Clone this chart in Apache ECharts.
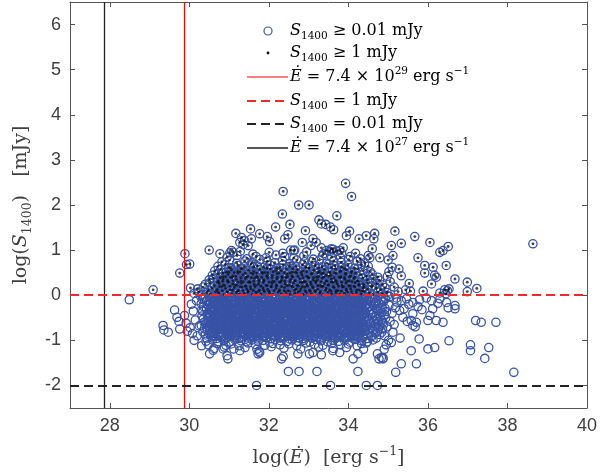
<!DOCTYPE html>
<html><head><meta charset="utf-8">
<script src="https://cdn.jsdelivr.net/npm/echarts@6/dist/echarts.min.js"></script>
<style>html,body{margin:0;padding:0;background:#fff}#c{width:614px;height:476px}</style>
</head><body><div id="c"></div>
<script>
// ---- tick labels ----
const xTicks = [28, 30, 32, 34, 36, 38, 40];
const yTicks = [-2, -1, 0, 1, 2, 3, 4, 5, 6];
// ---- reference lines ----
const edotCut29 = 29.869;   // log(7.4e29)
const edotCut27 = 27.869;   // log(7.4e27)
const s1mJy = 0;            // log(1 mJy)
const s001mJy = -2;         // log(0.01 mJy)

// ---- pulsars with S1400 >= 1 mJy (dense part) ----
const upperCloud = [
[30.12,0.04],[30.24,0.07],[30.31,0.02],[30.45,0.06],[30.53,0.03],[30.66,0.08],[30.74,0.05],[30.88,0.01],[30.95,0.07],[31.07,0.03],[31.19,0.06],[31.26,0.02],
[31.38,0.04],[31.47,0.07],[31.59,0.02],[31.68,0.06],[31.80,0.03],[31.89,0.08],[32.02,0.05],[32.10,0.01],[32.23,0.07],[32.31,0.03],[32.44,0.06],[32.52,0.02],
[32.65,0.04],[32.73,0.07],[32.86,0.02],[32.94,0.06],[33.07,0.03],[33.16,0.08],[33.28,0.05],[33.35,0.01],[33.49,0.07],[33.57,0.03],[33.69,0.06],[33.78,0.02],
[33.90,0.04],[33.98,0.07],[34.11,0.02],[34.20,0.06],[34.32,0.03],[34.40,0.08],[34.53,0.05],[34.61,0.01],[34.74,0.07],[34.85,0.03],[34.97,0.06],
[30.21,0.14],[30.35,0.18],[30.48,0.11],[30.57,0.16],[30.70,0.13],[30.82,0.19],[30.91,0.15],[31.03,0.12],[31.13,0.17],[31.24,0.10],[31.33,0.18],[31.45,0.14],
[31.55,0.14],[31.64,0.18],[31.76,0.11],[31.85,0.16],[31.97,0.13],[32.06,0.19],[32.18,0.15],[32.27,0.12],[32.39,0.17],[32.48,0.10],[32.60,0.18],[32.69,0.14],
[32.81,0.14],[32.90,0.18],[33.02,0.11],[33.11,0.16],[33.23,0.13],[33.33,0.19],[33.44,0.15],[33.53,0.12],[33.64,0.17],[33.74,0.10],[33.85,0.18],[33.95,0.14],
[34.06,0.14],[34.16,0.18],[34.27,0.11],[34.37,0.16],[34.48,0.13],[34.58,0.19],[34.70,0.15],[34.81,0.12],[34.92,0.17],
[30.40,0.24],[30.52,0.28],[30.63,0.21],[30.75,0.26],[30.86,0.23],[30.98,0.29],[31.09,0.25],[31.20,0.22],[31.31,0.27],[31.42,0.20],[31.53,0.28],[31.63,0.24],
[31.74,0.24],[31.86,0.28],[31.96,0.21],[32.08,0.26],[32.19,0.23],[32.29,0.29],[32.41,0.25],[32.51,0.22],[32.62,0.27],[32.74,0.20],[32.84,0.28],[32.96,0.24],
[33.06,0.24],[33.18,0.28],[33.29,0.21],[33.40,0.26],[33.50,0.23],[33.62,0.29],[33.72,0.25],[33.84,0.22],[33.94,0.27],[34.05,0.20],[34.17,0.28],[34.26,0.24],
[34.38,0.24],[34.49,0.28],[34.60,0.21],[34.72,0.26],[34.86,0.23],
[30.50,0.34],[30.61,0.38],[30.73,0.31],[30.85,0.36],[30.96,0.33],[31.08,0.39],[31.18,0.35],[31.30,0.32],[31.41,0.37],[31.52,0.30],[31.64,0.38],[31.75,0.34],
[31.87,0.34],[31.97,0.38],[32.09,0.31],[32.20,0.36],[32.32,0.33],[32.43,0.39],[32.55,0.35],[32.66,0.32],[32.78,0.37],[32.88,0.30],[33.00,0.38],[33.12,0.34],
[33.22,0.34],[33.34,0.38],[33.46,0.31],[33.57,0.36],[33.68,0.33],[33.80,0.39],[33.91,0.35],[34.02,0.32],[34.14,0.37],[34.25,0.30],[34.36,0.38],[34.48,0.34],
[34.62,0.36],[34.78,0.33],
[30.58,0.44],[30.72,0.48],[30.84,0.41],[30.97,0.46],[31.10,0.43],[31.22,0.49],[31.35,0.45],[31.47,0.42],[31.60,0.47],[31.71,0.40],[31.84,0.48],[31.96,0.44],
[32.09,0.44],[32.21,0.48],[32.33,0.41],[32.46,0.46],[32.58,0.43],[32.70,0.49],[32.83,0.45],[32.95,0.42],[33.07,0.47],[33.20,0.40],[33.32,0.48],[33.44,0.44],
[33.56,0.44],[33.69,0.48],[33.81,0.41],[33.93,0.46],[34.06,0.43],[34.18,0.49],[34.31,0.45],[34.45,0.42],[34.60,0.47],[34.74,0.40],
[30.64,0.54],[30.79,0.58],[30.93,0.51],[31.06,0.56],[31.21,0.53],[31.34,0.59],[31.49,0.55],[31.62,0.52],[31.77,0.57],[31.90,0.50],[32.04,0.58],[32.18,0.54],
[32.31,0.54],[32.45,0.58],[32.59,0.51],[32.72,0.56],[32.86,0.53],[33.00,0.59],[33.13,0.55],[33.27,0.52],[33.40,0.57],[33.54,0.50],[33.68,0.58],[33.81,0.54],
[33.95,0.56],[34.09,0.53],[34.23,0.59],[34.38,0.55],[34.55,0.52],
[30.72,0.64],[30.90,0.68],[31.05,0.61],[31.22,0.66],[31.38,0.63],[31.55,0.69],[31.71,0.65],[31.88,0.62],[32.03,0.67],[32.20,0.60],[32.36,0.68],[32.52,0.64],
[32.68,0.64],[32.85,0.68],[33.01,0.61],[33.17,0.66],[33.34,0.63],[33.50,0.69],[33.66,0.65],[33.83,0.62],[33.99,0.67],[34.16,0.60],[34.33,0.68],[34.50,0.64],
[30.82,0.74],[31.01,0.78],[31.19,0.71],[31.40,0.76],[31.58,0.73],[31.78,0.79],[31.96,0.75],[32.15,0.72],[32.34,0.77],[32.52,0.70],[32.70,0.78],[32.90,0.74],
[33.08,0.74],[33.27,0.78],[33.45,0.71],[33.63,0.76],[33.82,0.73],[34.01,0.79],[34.22,0.75],[34.41,0.72],
[30.95,0.84],[31.20,0.88],[31.45,0.81],[31.68,0.86],[31.93,0.83],[32.18,0.89],[32.40,0.85],[32.63,0.82],[32.88,0.87],[33.12,0.80],[33.35,0.88],[33.58,0.84],
[33.80,0.83],[34.05,0.86],[34.30,0.81],
[31.02,0.94],[31.28,0.97],[31.60,0.91],[32.01,0.95],[32.35,0.93],[32.62,0.99],[32.95,0.96],[33.38,0.92],[33.52,0.97],[33.61,1.02],[33.70,0.98],[33.83,0.94],[34.18,0.93]
];

// ---- extra bright pulsars filling the crowded core ----
const upperCore = [
[30.70,0.09],[30.83,0.10],[30.96,0.08],[31.09,0.11],[31.22,0.09],[31.35,0.10],[31.48,0.09],[31.61,0.10],[31.74,0.08],[31.87,0.11],[32.00,0.09],[32.13,0.10],
[32.26,0.09],[32.39,0.10],[32.52,0.08],[32.65,0.11],[32.78,0.09],[32.91,0.10],[33.04,0.09],[33.17,0.10],[33.30,0.08],[33.43,0.11],[33.56,0.09],[33.69,0.10],
[33.82,0.09],[33.95,0.10],[34.08,0.08],[34.21,0.11],[34.34,0.09],
[30.76,0.19],[30.89,0.21],[31.02,0.20],[31.15,0.22],[31.28,0.19],[31.41,0.20],[31.54,0.19],[31.67,0.21],[31.80,0.20],[31.93,0.22],[32.06,0.19],[32.19,0.20],
[32.32,0.19],[32.45,0.21],[32.58,0.20],[32.71,0.22],[32.84,0.19],[32.97,0.20],[33.10,0.19],[33.23,0.21],[33.36,0.20],[33.49,0.22],[33.62,0.19],[33.75,0.20],
[33.88,0.19],[34.01,0.21],[34.14,0.20],[34.27,0.22],[34.40,0.19],
[30.71,0.29],[30.84,0.31],[30.97,0.30],[31.10,0.32],[31.23,0.29],[31.36,0.30],[31.49,0.29],[31.62,0.31],[31.75,0.30],[31.88,0.32],[32.01,0.29],[32.14,0.30],
[32.27,0.29],[32.40,0.31],[32.53,0.30],[32.66,0.32],[32.79,0.29],[32.92,0.30],[33.05,0.29],[33.18,0.31],[33.31,0.30],[33.44,0.32],[33.57,0.29],[33.70,0.30],
[33.83,0.29],[33.96,0.31],[34.09,0.30],[34.22,0.32],
[30.78,0.39],[30.91,0.41],[31.04,0.40],[31.17,0.42],[31.30,0.39],[31.43,0.40],[31.56,0.39],[31.69,0.41],[31.82,0.40],[31.95,0.42],[32.08,0.39],[32.21,0.40],
[32.34,0.39],[32.47,0.41],[32.60,0.40],[32.73,0.42],[32.86,0.39],[32.99,0.40],[33.12,0.39],[33.25,0.41],[33.38,0.40],[33.51,0.42],[33.64,0.39],[33.77,0.40],
[33.90,0.39],[34.03,0.41],[34.16,0.40],
[30.85,0.49],[30.99,0.51],[31.13,0.50],[31.27,0.52],[31.41,0.49],[31.55,0.50],[31.69,0.49],[31.83,0.51],[31.97,0.50],[32.11,0.52],[32.25,0.49],[32.39,0.50],
[32.53,0.49],[32.67,0.51],[32.81,0.50],[32.95,0.52],[33.09,0.49],[33.23,0.50],[33.37,0.49],[33.51,0.51],[33.65,0.50],[33.79,0.52],[33.93,0.49],[34.07,0.50],
[31.00,0.61],[31.30,0.59],[31.62,0.62],[31.95,0.60],[32.27,0.61],[32.60,0.59],[32.93,0.62],[33.25,0.60],[33.58,0.61],[33.90,0.59]
];

// ---- pulsars with S1400 >= 1 mJy (sparse outskirts) ----
const upperOutliers = [
[33.93,2.48],[34.08,2.19],[32.36,2.30],[32.75,2.00],[33.01,2.00],[32.34,1.80],[33.71,1.76],[33.26,1.67],[33.32,1.58],[33.43,1.57],
[33.55,1.51],[33.63,1.45],[32.17,1.51],[32.53,1.57],[32.92,1.43],[31.17,1.37],[31.54,1.47],[31.77,1.36],[31.96,1.30],[32.02,1.19],
[31.31,1.28],[31.39,1.21],[31.56,1.25],[31.27,1.17],[31.35,1.12],[31.48,1.10],[31.06,0.99],[31.10,0.95],[30.50,1.00],[30.77,0.92],
[30.01,0.69],[29.89,0.92],[29.93,0.68],[29.76,0.49],[29.09,0.12],[30.03,0.16],[32.84,1.17],[32.48,1.34],[32.40,1.25],[32.55,1.00],
[32.65,1.00],[33.11,1.25],[33.19,1.17],[33.06,1.10],[33.32,1.05],[33.45,0.99],[33.57,1.03],[33.63,0.95],[33.78,0.99],[33.87,1.05],
[34.03,1.42],[33.95,1.32],[34.27,1.25],[34.45,1.32],[34.66,1.37],[34.64,1.25],[34.60,1.03],[34.50,0.88],[34.54,0.83],[34.79,0.83],
[35.00,0.78],[35.08,1.10],[35.12,0.88],[35.17,1.42],[35.33,1.15],[35.67,1.30],[36.05,1.17],[35.75,0.83],[36.30,0.95],[36.38,0.99],
[36.51,1.08],[35.92,0.66],[36.13,0.62],[36.21,0.40],[36.46,0.66],[36.68,0.36],[38.64,1.14],[35.27,0.58],[35.02,0.52],[35.92,0.49],
[35.33,0.43],[36.17,0.44],[36.09,0.25],[35.53,0.26],[36.99,0.29],[36.99,0.08],[37.23,0.15],[35.44,0.12],[35.56,0.09],[35.88,0.09],
[36.42,0.12],[36.49,0.10],[36.53,0.14],[35.05,0.30],[35.15,0.18],[35.25,0.08],[34.98,0.42],[35.10,0.62],[36.30,0.05],[36.45,0.03]
];

// ---- pulsars with 0.01 <= S1400 < 1 mJy (dense part) ----
const lowerCloud = [
[30.28,-0.02],[30.40,-0.05],[30.49,-0.01],[30.62,-0.04],[30.70,-0.03],[30.81,-0.06],[30.91,-0.02],[31.05,-0.04],[31.12,-0.01],[31.24,-0.05],[31.34,-0.03],[31.43,-0.02],
[31.56,-0.03],[31.68,-0.06],[31.77,-0.02],[31.90,-0.04],[31.98,-0.01],[32.09,-0.05],[32.19,-0.03],[32.33,-0.02],[32.40,-0.04],[32.52,-0.06],[32.62,-0.01],[32.71,-0.03],
[32.84,-0.05],[32.96,-0.02],[33.05,-0.04],[33.18,-0.01],[33.26,-0.06],[33.37,-0.03],[33.47,-0.05],[33.61,-0.02],[33.68,-0.04],[33.80,-0.01],[33.90,-0.03],[33.99,-0.06],
[34.12,-0.02],[34.24,-0.05],[34.33,-0.01],[34.46,-0.04],[34.54,-0.03],[34.65,-0.06],[34.75,-0.02],[34.89,-0.04],[34.98,-0.01],
[30.33,-0.09],[30.44,-0.12],[30.55,-0.08],[30.65,-0.11],[30.77,-0.10],[30.86,-0.13],[30.98,-0.09],[31.09,-0.11],[31.18,-0.07],[31.31,-0.12],[31.40,-0.10],[31.52,-0.08],
[31.61,-0.11],[31.73,-0.13],[31.83,-0.08],[31.94,-0.10],[32.05,-0.12],[32.15,-0.07],[32.27,-0.09],[32.36,-0.13],[32.47,-0.11],[32.58,-0.08],[32.67,-0.10],[32.79,-0.12],
[32.90,-0.07],[33.00,-0.09],[33.11,-0.11],[33.22,-0.13],[33.32,-0.08],[33.43,-0.10],[33.54,-0.12],[33.64,-0.09],[33.75,-0.07],[33.85,-0.11],[33.96,-0.13],[34.07,-0.10],
[34.18,-0.08],[34.29,-0.12],[34.39,-0.09],[34.50,-0.11],[34.60,-0.07],[34.71,-0.13],[34.82,-0.10],[34.93,-0.08],
[30.30,-0.18],[30.42,-0.14],[30.51,-0.19],[30.63,-0.16],[30.73,-0.20],[30.84,-0.15],[30.94,-0.17],[31.06,-0.19],[31.15,-0.14],[31.27,-0.18],[31.37,-0.16],[31.47,-0.20],
[31.58,-0.15],[31.70,-0.17],[31.79,-0.19],[31.91,-0.14],[32.00,-0.18],[32.12,-0.16],[32.22,-0.20],[32.31,-0.15],[32.43,-0.17],[32.54,-0.19],[32.63,-0.14],[32.75,-0.18],
[32.86,-0.16],[32.95,-0.20],[33.07,-0.15],[33.17,-0.17],[33.28,-0.19],[33.39,-0.14],[33.49,-0.18],[33.60,-0.16],[33.71,-0.20],[33.81,-0.15],[33.92,-0.17],[34.03,-0.19],
[34.13,-0.14],[34.25,-0.18],[34.35,-0.16],[34.46,-0.20],[34.56,-0.15],[34.68,-0.17],[34.78,-0.19],[34.88,-0.14],
[30.36,-0.25],[30.48,-0.22],[30.58,-0.27],[30.69,-0.23],[30.80,-0.26],[30.90,-0.21],[31.02,-0.24],[31.12,-0.27],[31.23,-0.22],[31.34,-0.25],[31.44,-0.23],[31.55,-0.26],
[31.66,-0.21],[31.76,-0.24],[31.87,-0.27],[31.97,-0.22],[32.08,-0.25],[32.19,-0.23],[32.29,-0.26],[32.40,-0.21],[32.51,-0.24],[32.61,-0.27],[32.72,-0.22],[32.82,-0.25],
[32.93,-0.23],[33.04,-0.26],[33.14,-0.21],[33.25,-0.24],[33.36,-0.27],[33.46,-0.22],[33.57,-0.25],[33.67,-0.23],[33.78,-0.26],[33.89,-0.21],[33.99,-0.24],[34.10,-0.27],
[34.21,-0.22],[34.31,-0.25],[34.42,-0.23],[34.53,-0.26],[34.63,-0.21],[34.74,-0.24],[34.85,-0.27],
[30.31,-0.33],[30.43,-0.29],[30.53,-0.31],[30.64,-0.34],[30.75,-0.28],[30.87,-0.32],[30.96,-0.30],[31.08,-0.33],[31.19,-0.29],[31.29,-0.34],[31.41,-0.31],[31.50,-0.28],
[31.62,-0.32],[31.72,-0.30],[31.84,-0.33],[31.93,-0.29],[32.04,-0.34],[32.16,-0.31],[32.25,-0.28],[32.37,-0.32],[32.46,-0.30],[32.57,-0.33],[32.69,-0.29],[32.78,-0.34],
[32.89,-0.31],[33.01,-0.28],[33.10,-0.32],[33.21,-0.30],[33.33,-0.33],[33.42,-0.29],[33.53,-0.34],[33.65,-0.31],[33.74,-0.28],[33.86,-0.32],[33.95,-0.30],[34.06,-0.33],
[34.17,-0.29],[34.28,-0.34],[34.38,-0.31],[34.49,-0.28],[34.61,-0.32],[34.70,-0.30],[34.81,-0.33],[34.92,-0.29],
[30.34,-0.36],[30.46,-0.40],[30.57,-0.37],[30.67,-0.41],[30.79,-0.38],[30.88,-0.35],[31.00,-0.39],[31.10,-0.36],[31.21,-0.40],[31.32,-0.38],[31.43,-0.41],[31.53,-0.37],
[31.64,-0.39],[31.75,-0.35],[31.85,-0.40],[31.96,-0.36],[32.07,-0.41],[32.17,-0.38],[32.28,-0.37],[32.39,-0.40],[32.49,-0.35],[32.60,-0.39],[32.70,-0.36],[32.81,-0.41],
[32.92,-0.38],[33.02,-0.37],[33.13,-0.40],[33.24,-0.35],[33.35,-0.39],[33.45,-0.36],[33.56,-0.41],[33.66,-0.38],[33.77,-0.37],[33.88,-0.40],[33.98,-0.35],[34.09,-0.39],
[34.20,-0.36],[34.30,-0.41],[34.41,-0.38],[34.52,-0.37],[34.62,-0.40],[34.73,-0.35],[34.84,-0.39],[34.96,-0.36],
[30.32,-0.46],[30.45,-0.43],[30.54,-0.47],[30.66,-0.44],[30.76,-0.48],[30.86,-0.42],[30.97,-0.45],[31.08,-0.47],[31.18,-0.43],[31.29,-0.46],[31.40,-0.44],[31.50,-0.48],
[31.61,-0.42],[31.72,-0.45],[31.82,-0.47],[31.93,-0.43],[32.03,-0.46],[32.14,-0.44],[32.24,-0.48],[32.34,-0.42],[32.45,-0.45],[32.56,-0.47],[32.66,-0.43],[32.77,-0.46],
[32.87,-0.44],[32.98,-0.48],[33.09,-0.42],[33.20,-0.45],[33.30,-0.47],[33.41,-0.43],[33.52,-0.46],[33.62,-0.44],[33.73,-0.48],[33.83,-0.42],[33.94,-0.45],[34.05,-0.47],
[34.16,-0.43],[34.27,-0.46],[34.37,-0.44],[34.48,-0.48],[34.59,-0.42],[34.70,-0.45],[34.80,-0.47],[34.91,-0.43],
[30.35,-0.53],[30.47,-0.50],[30.56,-0.54],[30.68,-0.51],[30.78,-0.55],[30.89,-0.49],[30.99,-0.52],[31.11,-0.54],[31.20,-0.50],[31.33,-0.53],[31.42,-0.51],[31.54,-0.55],
[31.63,-0.49],[31.74,-0.52],[31.85,-0.54],[31.95,-0.50],[32.06,-0.53],[32.17,-0.51],[32.26,-0.55],[32.38,-0.49],[32.48,-0.52],[32.59,-0.54],[32.68,-0.50],[32.80,-0.53],
[32.91,-0.51],[33.01,-0.55],[33.12,-0.49],[33.23,-0.52],[33.34,-0.54],[33.44,-0.50],[33.55,-0.53],[33.65,-0.51],[33.76,-0.55],[33.87,-0.49],[33.97,-0.52],[34.08,-0.54],
[34.19,-0.50],[34.30,-0.53],[34.40,-0.51],[34.51,-0.55],[34.61,-0.49],[34.72,-0.52],[34.83,-0.54],[34.94,-0.50],
[30.37,-0.60],[30.48,-0.57],[30.59,-0.61],[30.70,-0.58],[30.80,-0.62],[30.91,-0.56],[31.02,-0.59],[31.13,-0.61],[31.23,-0.57],[31.34,-0.60],[31.45,-0.58],[31.56,-0.62],
[31.66,-0.56],[31.77,-0.59],[31.88,-0.61],[31.98,-0.57],[32.09,-0.60],[32.20,-0.58],[32.30,-0.62],[32.41,-0.56],[32.52,-0.59],[32.62,-0.61],[32.73,-0.57],[32.83,-0.60],
[32.94,-0.58],[33.05,-0.62],[33.15,-0.56],[33.26,-0.59],[33.37,-0.61],[33.47,-0.57],[33.58,-0.60],[33.68,-0.58],[33.79,-0.62],[33.90,-0.56],[34.00,-0.59],[34.11,-0.61],
[34.22,-0.57],[34.32,-0.60],[34.43,-0.58],[34.53,-0.62],[34.64,-0.56],[34.75,-0.59],[34.86,-0.61],
[30.30,-0.67],[30.41,-0.64],[30.52,-0.68],[30.63,-0.65],[30.74,-0.69],[30.84,-0.63],[30.95,-0.66],[31.06,-0.68],[31.17,-0.64],[31.27,-0.67],[31.38,-0.65],[31.49,-0.69],
[31.60,-0.63],[31.70,-0.66],[31.81,-0.68],[31.92,-0.64],[32.02,-0.67],[32.13,-0.65],[32.24,-0.69],[32.34,-0.63],[32.45,-0.66],[32.55,-0.68],[32.66,-0.64],[32.77,-0.67],
[32.87,-0.65],[32.98,-0.69],[33.09,-0.63],[33.19,-0.66],[33.30,-0.68],[33.41,-0.64],[33.51,-0.67],[33.62,-0.65],[33.72,-0.69],[33.83,-0.63],[33.94,-0.66],[34.04,-0.68],
[34.15,-0.64],[34.26,-0.67],[34.36,-0.65],[34.47,-0.69],[34.57,-0.63],[34.68,-0.66],[34.79,-0.68],[34.89,-0.64],
[30.38,-0.74],[30.49,-0.71],[30.60,-0.75],[30.71,-0.72],[30.81,-0.76],[30.92,-0.70],[31.03,-0.73],[31.14,-0.75],[31.24,-0.71],[31.35,-0.74],[31.46,-0.72],[31.57,-0.76],
[31.67,-0.70],[31.78,-0.73],[31.89,-0.75],[31.99,-0.71],[32.10,-0.74],[32.21,-0.72],[32.31,-0.76],[32.42,-0.70],[32.53,-0.73],[32.63,-0.75],[32.74,-0.71],[32.84,-0.74],
[32.95,-0.72],[33.06,-0.76],[33.16,-0.70],[33.27,-0.73],[33.38,-0.75],[33.48,-0.71],[33.59,-0.74],[33.69,-0.72],[33.80,-0.76],[33.91,-0.70],[34.01,-0.73],[34.12,-0.75],
[34.23,-0.71],[34.33,-0.74],[34.44,-0.72],[34.54,-0.76],[34.65,-0.70],[34.76,-0.73],[34.86,-0.75],
[30.34,-0.81],[30.45,-0.78],[30.56,-0.82],[30.67,-0.79],[30.78,-0.83],[30.88,-0.77],[30.99,-0.80],[31.10,-0.82],[31.21,-0.78],[31.31,-0.81],[31.42,-0.79],[31.53,-0.83],
[31.64,-0.77],[31.74,-0.80],[31.85,-0.82],[31.96,-0.78],[32.06,-0.81],[32.17,-0.79],[32.28,-0.83],[32.38,-0.77],[32.49,-0.80],[32.60,-0.82],[32.70,-0.78],[32.81,-0.81],
[32.92,-0.79],[33.02,-0.83],[33.13,-0.77],[33.24,-0.80],[33.34,-0.82],[33.45,-0.78],[33.56,-0.81],[33.66,-0.79],[33.77,-0.83],[33.88,-0.77],[33.98,-0.80],[34.09,-0.82],
[34.20,-0.78],[34.30,-0.81],[34.41,-0.79],[34.52,-0.83],[34.62,-0.77],[34.73,-0.80],[34.84,-0.82],
[30.40,-0.88],[30.51,-0.85],[30.62,-0.89],[30.73,-0.86],[30.83,-0.90],[30.94,-0.84],[31.05,-0.87],[31.16,-0.89],[31.26,-0.85],[31.37,-0.88],[31.48,-0.86],[31.59,-0.90],
[31.69,-0.84],[31.80,-0.87],[31.91,-0.89],[32.01,-0.85],[32.12,-0.88],[32.23,-0.86],[32.33,-0.90],[32.44,-0.84],[32.55,-0.87],[32.65,-0.89],[32.76,-0.85],[32.87,-0.88],
[32.97,-0.86],[33.08,-0.90],[33.19,-0.84],[33.29,-0.87],[33.40,-0.89],[33.51,-0.85],[33.61,-0.88],[33.72,-0.86],[33.83,-0.90],[33.93,-0.84],[34.04,-0.87],[34.15,-0.89],
[34.25,-0.85],[34.36,-0.88],[34.47,-0.86],[34.57,-0.90],[34.68,-0.84],[34.79,-0.87],
[30.44,-0.95],[30.56,-0.92],[30.68,-0.96],[30.79,-0.93],[30.91,-0.97],[31.02,-0.91],[31.14,-0.94],[31.25,-0.96],[31.37,-0.92],[31.48,-0.95],[31.60,-0.93],[31.71,-0.97],
[31.83,-0.91],[31.94,-0.94],[32.06,-0.96],[32.17,-0.92],[32.29,-0.95],[32.40,-0.93],[32.52,-0.97],[32.63,-0.91],[32.75,-0.94],[32.86,-0.96],[32.98,-0.92],[33.09,-0.95],
[33.21,-0.93],[33.32,-0.97],[33.44,-0.91],[33.55,-0.94],[33.67,-0.96],[33.78,-0.92],[33.90,-0.95],[34.01,-0.93],[34.13,-0.97],[34.24,-0.91],[34.36,-0.94],[34.47,-0.96],
[34.59,-0.92],[34.70,-0.95],
[30.42,-1.02],[30.58,-0.99],[30.71,-1.03],[30.86,-1.00],[31.00,-1.04],[31.14,-0.98],[31.30,-1.01],[31.44,-1.03],[31.58,-0.99],[31.73,-1.02],[31.86,-1.00],[32.02,-1.04],
[32.16,-0.98],[32.30,-1.01],[32.45,-1.03],[32.59,-0.99],[32.74,-1.02],[32.88,-1.00],[33.03,-1.04],[33.18,-0.98],[33.31,-1.01],[33.47,-1.03],[33.60,-0.99],[33.76,-1.02],
[33.90,-1.00],[34.04,-1.04],[34.19,-0.98],[34.33,-1.01],[34.48,-1.03],[34.62,-0.99],
[30.48,-1.10],[30.70,-1.07],[30.92,-1.11],[31.05,-1.08],[31.25,-1.12],[31.48,-1.06],[31.66,-1.09],[31.90,-1.11],[32.10,-1.07],[32.28,-1.10],[32.50,-1.08],[32.70,-1.12],
[32.93,-1.06],[33.15,-1.09],[33.36,-1.11],[33.58,-1.07],[33.80,-1.10],[34.00,-1.08],[34.22,-1.12],[34.45,-1.06],
[30.62,-1.18],[30.88,-1.15],[31.12,-1.19],[31.40,-1.16],[31.70,-1.20],[32.06,-1.14],[32.38,-1.17],[32.80,-1.19],[33.25,-1.15],[33.62,-1.18],[33.95,-1.16],[34.38,-1.20]
];

// ---- extra faint pulsars filling the crowded core ----
const lowerCore = [
[30.55,-0.06],[30.64,-0.08],[30.76,-0.05],[30.84,-0.07],[30.97,-0.09],[31.06,-0.06],[31.19,-0.06],[31.28,-0.08],[31.41,-0.05],[31.50,-0.07],[31.63,-0.09],[31.72,-0.06],
[31.85,-0.06],[31.94,-0.08],[32.07,-0.05],[32.16,-0.07],[32.29,-0.09],[32.38,-0.06],[32.51,-0.06],[32.60,-0.08],[32.73,-0.05],[32.82,-0.07],[32.95,-0.09],[33.04,-0.06],
[33.17,-0.06],[33.26,-0.08],[33.39,-0.05],[33.48,-0.07],[33.61,-0.09],[33.70,-0.06],[33.83,-0.06],[33.92,-0.08],[34.05,-0.05],[34.14,-0.07],[34.27,-0.09],[34.36,-0.06],
[30.50,-0.13],[30.61,-0.15],[30.71,-0.12],[30.82,-0.14],[30.93,-0.16],[31.04,-0.13],[31.15,-0.13],[31.26,-0.15],[31.36,-0.12],[31.47,-0.14],[31.58,-0.16],[31.69,-0.13],
[31.80,-0.13],[31.90,-0.15],[32.01,-0.12],[32.12,-0.14],[32.23,-0.16],[32.34,-0.13],[32.44,-0.13],[32.55,-0.15],[32.66,-0.12],[32.77,-0.14],[32.88,-0.16],[32.98,-0.13],
[33.09,-0.13],[33.20,-0.15],[33.31,-0.12],[33.42,-0.14],[33.52,-0.16],[33.63,-0.13],[33.74,-0.13],[33.85,-0.15],[33.96,-0.12],[34.06,-0.14],[34.17,-0.16],[34.28,-0.13],[34.39,-0.15],
[30.53,-0.20],[30.62,-0.22],[30.74,-0.19],[30.82,-0.21],[30.95,-0.23],[31.04,-0.20],[31.17,-0.20],[31.26,-0.22],[31.39,-0.19],[31.48,-0.21],[31.61,-0.23],[31.70,-0.20],
[31.83,-0.20],[31.92,-0.22],[32.05,-0.19],[32.14,-0.21],[32.27,-0.23],[32.36,-0.20],[32.49,-0.20],[32.58,-0.22],[32.71,-0.19],[32.80,-0.21],[32.93,-0.23],[33.02,-0.20],
[33.15,-0.20],[33.24,-0.22],[33.37,-0.19],[33.46,-0.21],[33.59,-0.23],[33.68,-0.20],[33.81,-0.20],[33.90,-0.22],[34.03,-0.19],[34.12,-0.21],[34.25,-0.23],[34.34,-0.20],
[30.53,-0.27],[30.64,-0.29],[30.74,-0.26],[30.85,-0.28],[30.96,-0.30],[31.07,-0.27],[31.18,-0.27],[31.29,-0.29],[31.39,-0.26],[31.50,-0.28],[31.61,-0.30],[31.72,-0.27],
[31.83,-0.27],[31.93,-0.29],[32.04,-0.26],[32.15,-0.28],[32.26,-0.30],[32.37,-0.27],[32.47,-0.27],[32.58,-0.29],[32.69,-0.26],[32.80,-0.28],[32.91,-0.30],[33.01,-0.27],
[33.12,-0.27],[33.23,-0.29],[33.34,-0.26],[33.45,-0.28],[33.55,-0.30],[33.66,-0.27],[33.77,-0.27],[33.88,-0.29],[33.99,-0.26],[34.09,-0.28],[34.20,-0.30],[34.31,-0.27],
[30.55,-0.34],[30.64,-0.36],[30.76,-0.33],[30.84,-0.35],[30.97,-0.37],[31.06,-0.34],[31.19,-0.34],[31.28,-0.36],[31.41,-0.33],[31.50,-0.35],[31.63,-0.37],[31.72,-0.34],
[31.85,-0.34],[31.94,-0.36],[32.07,-0.33],[32.16,-0.35],[32.29,-0.37],[32.38,-0.34],[32.51,-0.34],[32.60,-0.36],[32.73,-0.33],[32.82,-0.35],[32.95,-0.37],[33.04,-0.34],
[33.17,-0.34],[33.26,-0.36],[33.39,-0.33],[33.48,-0.35],[33.61,-0.37],[33.70,-0.34],[33.83,-0.34],[33.92,-0.36],[34.05,-0.33],[34.14,-0.35],[34.27,-0.37],[34.36,-0.34],
[30.50,-0.41],[30.61,-0.43],[30.71,-0.40],[30.82,-0.42],[30.93,-0.44],[31.04,-0.41],[31.15,-0.41],[31.26,-0.43],[31.36,-0.40],[31.47,-0.42],[31.58,-0.44],[31.69,-0.41],
[31.80,-0.41],[31.90,-0.43],[32.01,-0.40],[32.12,-0.42],[32.23,-0.44],[32.34,-0.41],[32.44,-0.41],[32.55,-0.43],[32.66,-0.40],[32.77,-0.42],[32.88,-0.44],[32.98,-0.41],
[33.09,-0.41],[33.20,-0.43],[33.31,-0.40],[33.42,-0.42],[33.52,-0.44],[33.63,-0.41],[33.74,-0.41],[33.85,-0.43],[33.96,-0.40],[34.06,-0.42],[34.17,-0.44],[34.28,-0.41],[34.39,-0.43],
[30.53,-0.48],[30.62,-0.50],[30.74,-0.47],[30.82,-0.49],[30.95,-0.51],[31.04,-0.48],[31.17,-0.48],[31.26,-0.50],[31.39,-0.47],[31.48,-0.49],[31.61,-0.51],[31.70,-0.48],
[31.83,-0.48],[31.92,-0.50],[32.05,-0.47],[32.14,-0.49],[32.27,-0.51],[32.36,-0.48],[32.49,-0.48],[32.58,-0.50],[32.71,-0.47],[32.80,-0.49],[32.93,-0.51],[33.02,-0.48],
[33.15,-0.48],[33.24,-0.50],[33.37,-0.47],[33.46,-0.49],[33.59,-0.51],[33.68,-0.48],[33.81,-0.48],[33.90,-0.50],[34.03,-0.47],[34.12,-0.49],[34.25,-0.51],[34.34,-0.48],
[30.53,-0.55],[30.64,-0.57],[30.74,-0.54],[30.85,-0.56],[30.96,-0.58],[31.07,-0.55],[31.18,-0.55],[31.29,-0.57],[31.39,-0.54],[31.50,-0.56],[31.61,-0.58],[31.72,-0.55],
[31.83,-0.55],[31.93,-0.57],[32.04,-0.54],[32.15,-0.56],[32.26,-0.58],[32.37,-0.55],[32.47,-0.55],[32.58,-0.57],[32.69,-0.54],[32.80,-0.56],[32.91,-0.58],[33.01,-0.55],
[33.12,-0.55],[33.23,-0.57],[33.34,-0.54],[33.45,-0.56],[33.55,-0.58],[33.66,-0.55],[33.77,-0.55],[33.88,-0.57],[33.99,-0.54],[34.09,-0.56],[34.20,-0.58],[34.31,-0.55],
[30.55,-0.62],[30.64,-0.64],[30.76,-0.61],[30.84,-0.63],[30.97,-0.65],[31.06,-0.62],[31.19,-0.62],[31.28,-0.64],[31.41,-0.61],[31.50,-0.63],[31.63,-0.65],[31.72,-0.62],
[31.85,-0.62],[31.94,-0.64],[32.07,-0.61],[32.16,-0.63],[32.29,-0.65],[32.38,-0.62],[32.51,-0.62],[32.60,-0.64],[32.73,-0.61],[32.82,-0.63],[32.95,-0.65],[33.04,-0.62],
[33.17,-0.62],[33.26,-0.64],[33.39,-0.61],[33.48,-0.63],[33.61,-0.65],[33.70,-0.62],[33.83,-0.62],[33.92,-0.64],[34.05,-0.61],[34.14,-0.63],[34.27,-0.65],[34.36,-0.62],
[30.50,-0.69],[30.61,-0.71],[30.71,-0.68],[30.82,-0.70],[30.93,-0.72],[31.04,-0.69],[31.15,-0.69],[31.26,-0.71],[31.36,-0.68],[31.47,-0.70],[31.58,-0.72],[31.69,-0.69],
[31.80,-0.69],[31.90,-0.71],[32.01,-0.68],[32.12,-0.70],[32.23,-0.72],[32.34,-0.69],[32.44,-0.69],[32.55,-0.71],[32.66,-0.68],[32.77,-0.70],[32.88,-0.72],[32.98,-0.69],
[33.09,-0.69],[33.20,-0.71],[33.31,-0.68],[33.42,-0.70],[33.52,-0.72],[33.63,-0.69],[33.74,-0.69],[33.85,-0.71],[33.96,-0.68],[34.06,-0.70],[34.17,-0.72],[34.28,-0.69],[34.39,-0.71],
[30.53,-0.76],[30.62,-0.78],[30.74,-0.75],[30.82,-0.77],[30.95,-0.79],[31.04,-0.76],[31.17,-0.76],[31.26,-0.78],[31.39,-0.75],[31.48,-0.77],[31.61,-0.79],[31.70,-0.76],
[31.83,-0.76],[31.92,-0.78],[32.05,-0.75],[32.14,-0.77],[32.27,-0.79],[32.36,-0.76],[32.49,-0.76],[32.58,-0.78],[32.71,-0.75],[32.80,-0.77],[32.93,-0.79],[33.02,-0.76],
[33.15,-0.76],[33.24,-0.78],[33.37,-0.75],[33.46,-0.77],[33.59,-0.79],[33.68,-0.76],[33.81,-0.76],[33.90,-0.78],[34.03,-0.75],[34.12,-0.77],[34.25,-0.79],[34.34,-0.76],
[30.53,-0.83],[30.64,-0.85],[30.74,-0.82],[30.85,-0.84],[30.96,-0.86],[31.07,-0.83],[31.18,-0.83],[31.29,-0.85],[31.39,-0.82],[31.50,-0.84],[31.61,-0.86],[31.72,-0.83],
[31.83,-0.83],[31.93,-0.85],[32.04,-0.82],[32.15,-0.84],[32.26,-0.86],[32.37,-0.83],[32.47,-0.83],[32.58,-0.85],[32.69,-0.82],[32.80,-0.84],[32.91,-0.86],[33.01,-0.83],
[33.12,-0.83],[33.23,-0.85],[33.34,-0.82],[33.45,-0.84],[33.55,-0.86],[33.66,-0.83],[33.77,-0.83],[33.88,-0.85],[33.99,-0.82],[34.09,-0.84],[34.20,-0.86],[34.31,-0.83],
[30.64,-0.92],[30.76,-0.89],[30.84,-0.91],[30.97,-0.93],[31.06,-0.90],[31.19,-0.90],[31.28,-0.92],[31.41,-0.89],[31.50,-0.91],[31.63,-0.93],[31.72,-0.90],[31.85,-0.90],
[31.94,-0.92],[32.07,-0.89],[32.16,-0.91],[32.29,-0.93],[32.38,-0.90],[32.51,-0.90],[32.60,-0.92],[32.73,-0.89],[32.82,-0.91],[32.95,-0.93],[33.04,-0.90],[33.17,-0.90],
[33.26,-0.92],[33.39,-0.89],[33.48,-0.91],[33.61,-0.93],[33.70,-0.90],[33.83,-0.90],[33.92,-0.92],[34.05,-0.89],[34.14,-0.91],[34.27,-0.93]
];

// ---- pulsars with 0.01 <= S1400 < 1 mJy (sparse outskirts) ----
const lowerOutliers = [
[28.49,-0.10],[29.63,-0.33],[29.69,-0.49],[29.74,-0.58],[29.34,-0.67],[29.36,-0.77],[29.47,-0.82],[29.76,-0.75],[29.88,-0.45],[29.92,-0.62],
[30.02,-0.72],[29.95,-0.80],[30.10,-0.35],[30.15,-0.55],[30.05,-0.20],[30.20,-0.90],[30.12,-1.00],[30.25,-0.68],[30.08,-0.85],[30.18,-0.12],
[32.49,-1.69],[32.76,-1.69],[33.21,-1.69],[34.24,-1.69],[31.69,-2.00],[33.55,-2.00],[34.45,-2.00],[34.73,-2.00],
[30.51,-1.30],[30.97,-1.41],[30.95,-1.34],[32.32,-1.41],[32.36,-1.36],[33.32,-1.32],[34.12,-1.41],[34.24,-1.30],[34.73,-1.30],[34.77,-1.41],
[34.87,-1.39],[30.31,-1.12],[30.85,-1.19],[31.27,-1.23],[31.77,-1.27],[33.11,-1.27],[33.61,-1.23],[33.78,-1.27],[34.33,-1.07],[31.73,-1.30],
[31.75,-1.24],[30.60,-1.22],[32.73,-1.30],[33.02,-1.30],[34.90,-1.20],
[35.04,-0.03],[35.21,-0.06],[35.33,-0.12],[35.46,-0.08],[35.62,-0.16],[35.79,-0.10],[35.96,-0.06],[36.09,-0.12],[36.25,-0.18],[36.30,-0.08],
[36.47,-0.16],[36.68,-0.23],[36.68,-0.30],[36.51,-0.28],[35.29,-0.34],[35.37,-0.49],[35.62,-0.41],[35.58,-0.56],[35.62,-0.67],[35.71,-0.60],
[36.05,-0.45],[36.00,-0.56],[36.21,-0.56],[36.38,-0.60],[37.20,-0.56],[37.34,-0.60],[37.71,-0.60],[35.12,-0.82],[34.91,-0.90],[35.78,-0.97],
[35.58,-1.23],[36.00,-1.19],[36.17,-1.16],[36.53,-1.01],[37.07,-1.10],[37.07,-1.23],[37.53,-1.16],[37.43,-1.40],[35.33,-1.52],[35.71,-1.52],
[35.19,-1.71],[38.16,-1.71],[34.83,-1.38],[34.87,-1.41],
[35.02,-0.22],[35.10,-0.40],[35.18,-0.28],[35.05,-0.58],[34.98,-0.70],[35.15,-0.65],[35.40,-0.30],[35.48,-0.58],[35.85,-0.32],[35.68,-0.70],
[35.01,-1.00],[35.08,-1.05],[34.95,-1.10],[35.22,-0.15],[35.52,-0.20],[35.30,-0.95],[35.75,-0.25],[36.12,-0.30]
];

const allPulsars = [].concat(lowerCloud, lowerCore, lowerOutliers, upperCloud, upperCore, upperOutliers);
const brightPulsars = allPulsars.filter(p => p[1] >= s1mJy);

const BLUE = '#3853a4';
const AXC = '#404040';
const serif = '"DejaVu Serif", "Liberation Serif", serif';
const rich = {
  n: { fontFamily: serif, fontSize: 16, color: '#111', lineHeight: 22 },
  i: { fontFamily: serif, fontSize: 16, color: '#111', fontStyle: 'italic', lineHeight: 22 },
  s: { fontFamily: serif, fontSize: 10.5, color: '#111', verticalAlign: 'bottom' },
  p: { fontFamily: serif, fontSize: 10.5, color: '#111', verticalAlign: 'top' }
};
const richAxis = {
  n: { fontFamily: serif, fontSize: 19, color: AXC, lineHeight: 26 },
  i: { fontFamily: serif, fontSize: 19, color: AXC, fontStyle: 'italic', lineHeight: 26 },
  s: { fontFamily: serif, fontSize: 12.5, color: AXC, verticalAlign: 'bottom' },
  p: { fontFamily: serif, fontSize: 12.5, color: AXC, verticalAlign: 'top' }
};

const legendRows = [
  { y: 31,  kind: 'circle', text: '{i|S}{s|1400}{n| ≥ 0.01 mJy}' },
  { y: 53,  kind: 'dot',    text: '{i|S}{s|1400}{n| ≥ 1 mJy}' },
  { y: 77,  kind: 'line', color: '#ff0000', dash: null, width: 1.2, text: '{i|Ė}{n| = 7.4 × 10}{p|29}{n| erg s}{p|−1}' },
  { y: 101, kind: 'line', color: '#ee2a2a', dash: [9, 5], width: 2.2, text: '{i|S}{s|1400}{n| = 1 mJy}' },
  { y: 124, kind: 'line', color: '#222222', dash: [9, 5], width: 2, text: '{i|S}{s|1400}{n| = 0.01 mJy}' },
  { y: 148, kind: 'line', color: '#222222', dash: null, width: 1.3, text: '{i|Ė}{n| = 7.4 × 10}{p|27}{n| erg s}{p|−1}' }
];
const graphics = [];
legendRows.forEach(r => {
  if (r.kind === 'circle') {
    graphics.push({ type: 'circle', shape: { cx: 268, cy: r.y, r: 4 }, style: { fill: 'none', stroke: BLUE, lineWidth: 1.2 } });
  } else if (r.kind === 'dot') {
    graphics.push({ type: 'circle', shape: { cx: 268, cy: r.y, r: 1.4 }, style: { fill: '#111' } });
  } else {
    graphics.push({ type: 'line', shape: { x1: 247, y1: r.y, x2: 288, y2: r.y }, style: { stroke: r.color, lineWidth: r.width, lineDash: r.dash } });
  }
  graphics.push({ type: 'text', x: 290, y: r.y, style: { text: r.text, rich: rich, verticalAlign: 'middle', align: 'left' } });
});

const chart = echarts.init(document.getElementById('c'), null, { renderer: 'canvas' });
const axisCommon = {
  type: 'value',
  axisLine: { show: true, onZero: false, lineStyle: { color: '#555', width: 1 } },
  splitLine: { show: false }
};
chart.setOption({
  animation: false,
  backgroundColor: '#fff',
  grid: { left: 70, right: 27, top: 2, bottom: 68, containLabel: false },
  xAxis: [
    Object.assign({}, axisCommon, {
      min: 27, max: 40, position: 'bottom',
      axisTick: { show: true, inside: true, length: 5, customValues: xTicks, lineStyle: { color: '#555' } },
      axisLabel: { customValues: xTicks, color: AXC, fontSize: 18, fontFamily: '"Liberation Sans", Arial, sans-serif', margin: 9 },
      name: '{n|log(}{i|Ė}{n|)  [erg s}{p|−1}{n|]}',
      nameLocation: 'middle', nameGap: 37,
      nameTextStyle: { rich: richAxis }
    }),
    Object.assign({}, axisCommon, {
      min: 27, max: 40, position: 'top',
      axisTick: { show: true, inside: true, length: 5, customValues: xTicks, lineStyle: { color: '#555' } },
      axisLabel: { show: false }
    })
  ],
  yAxis: [
    Object.assign({}, axisCommon, {
      min: -2.5, max: 6.5, position: 'left',
      axisTick: { show: true, inside: true, length: 5, customValues: yTicks, lineStyle: { color: '#555' } },
      axisLabel: { customValues: yTicks, color: AXC, fontSize: 18, fontFamily: '"Liberation Sans", Arial, sans-serif', margin: 9 },
      name: '{n|log(}{i|S}{s|1400}{n|)   [mJy]}',
      nameLocation: 'middle', nameGap: 34, nameRotate: 90,
      nameTextStyle: { rich: richAxis }
    }),
    Object.assign({}, axisCommon, {
      min: -2.5, max: 6.5, position: 'right',
      axisTick: { show: true, inside: true, length: 5, customValues: yTicks, lineStyle: { color: '#555' } },
      axisLabel: { show: false }
    })
  ],
  series: [
    {
      name: 'S1400 >= 0.01 mJy', type: 'scatter', xAxisIndex: 0, yAxisIndex: 0,
      data: allPulsars, symbol: 'circle', symbolSize: 8.3, large: false,
      itemStyle: { color: 'rgba(0,0,0,0)', borderColor: BLUE, borderWidth: 1.3, opacity: 1 },
      silent: true, z: 2
    },
    {
      name: 'S1400 >= 1 mJy', type: 'scatter', xAxisIndex: 0, yAxisIndex: 0,
      data: brightPulsars, symbol: 'circle', symbolSize: 2.8,
      itemStyle: { color: '#111' }, silent: true, z: 3
    },
    {
      name: 'refs', type: 'line', xAxisIndex: 0, yAxisIndex: 0, data: [], z: 4, silent: true,
      markLine: {
        silent: true, symbol: ['none', 'none'], label: { show: false }, animation: false,
        data: [
          { xAxis: edotCut29, lineStyle: { color: '#ff0000', width: 1.2, type: 'solid' } },
          { xAxis: edotCut27, lineStyle: { color: '#222222', width: 1.3, type: 'solid' } },
          { yAxis: s1mJy, lineStyle: { color: '#ee2a2a', width: 2.2, type: [9, 5] } },
          { yAxis: s001mJy, lineStyle: { color: '#222222', width: 2, type: [9, 5] } }
        ]
      }
    }
  ],
  graphic: graphics
});
</script>
</body></html>
